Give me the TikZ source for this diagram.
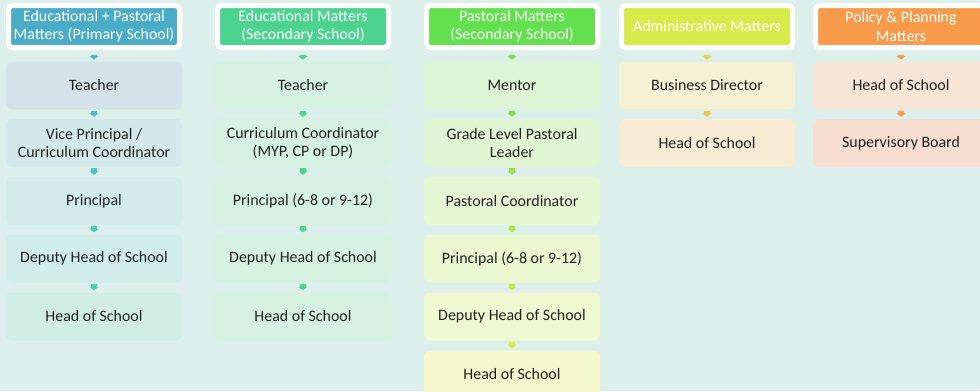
\documentclass[tikz,border=0pt]{standalone}
\usepackage{fontspec}
\setmainfont{Carlito}
\usetikzlibrary{arrows.meta}

\definecolor{bg}{HTML}{DDEFEA}
\definecolor{txt}{HTML}{222222}
% header colours
\definecolor{hA}{HTML}{4AACC6}
\definecolor{hB}{HTML}{4CD38F}
\definecolor{hC}{HTML}{62E04D}
\definecolor{hD}{HTML}{D5EC4B}
\definecolor{hE}{HTML}{F79B4B}
% box fills
\definecolor{fa1}{HTML}{D4E3EA}\definecolor{fa2}{HTML}{D3E8EA}\definecolor{fa3}{HTML}{D2EBEB}
\definecolor{fa4}{HTML}{D1EDE8}\definecolor{fa5}{HTML}{D0EDE4}
\definecolor{fb}{HTML}{D5F1E2}
\definecolor{fc1}{HTML}{DDF5D5}\definecolor{fc2}{HTML}{E0F6D3}\definecolor{fc3}{HTML}{E5F6D2}
\definecolor{fc4}{HTML}{EAF7D1}\definecolor{fc5}{HTML}{EFF8D0}\definecolor{fc6}{HTML}{F4F8CF}
\definecolor{fd1}{HTML}{F6F0D4}\definecolor{fd2}{HTML}{F8EBD3}
\definecolor{fe1}{HTML}{F8E5D6}\definecolor{fe2}{HTML}{F7DCD1}
% arrow colours
\definecolor{ka1}{HTML}{4AB8C8}\definecolor{ka2}{HTML}{4BBFC6}\definecolor{ka3}{HTML}{4CC7BF}
\definecolor{ka4}{HTML}{4ACDB7}\definecolor{ka5}{HTML}{4BD0AC}
\definecolor{kc1}{HTML}{78DE44}\definecolor{kc2}{HTML}{84E040}\definecolor{kc3}{HTML}{96E23E}
\definecolor{kc4}{HTML}{ACE53C}\definecolor{kc5}{HTML}{C3E93A}\definecolor{kc6}{HTML}{D6EC3A}
\definecolor{kd1}{HTML}{F0CC40}\definecolor{kd2}{HTML}{F2C446}

\begin{document}
\begin{tikzpicture}[x=1pt,y=-1pt,
  hdr/.style={draw=white,line width=5pt,rounded corners=4pt,minimum width=171pt,
    minimum height=42pt,inner sep=0pt,align=center,text=white,
    font=\fontsize{15.9}{18.2}\selectfont},
  role/.style={rounded corners=6pt,minimum width=176pt,minimum height=48pt,
    inner sep=0pt,align=center,text=txt,font=\fontsize{15.9}{18.2}\selectfont},
  down/.style={line width=5.5pt,-{Triangle[width=9pt,length=3.5pt]},
    shorten <=1pt,shorten >=2pt},
  top/.style={down,shorten <=5pt,shorten >=1.7pt}]

\fill[bg] (0,0) rectangle (980,391);
\clip (0,0) rectangle (980,391);

% primary school
\node[hdr,fill=hA] (h1) at (94,26.5) {Educational + Pastoral\\Matters (Primary School)};
\node[role,fill=fa1] (a1) at (94,85.5) {Teacher};
\node[role,fill=fa2] (a2) at (94,143) {Vice Principal /\\Curriculum Coordinator};
\node[role,fill=fa3] (a3) at (94,201) {Principal};
\node[role,fill=fa4] (a4) at (94,258.5) {Deputy Head of School};
\node[role,fill=fa5] (a5) at (94,316.5) {Head of School};

\draw[top,ka1] (h1) -- (a1);
\draw[down,ka2] (a1) -- (a2);
\draw[down,ka3] (a2) -- (a3);
\draw[down,ka4] (a3) -- (a4);
\draw[down,ka5] (a4) -- (a5);

% secondary school, educational
\node[hdr,fill=hB] (h2) at (303,26.5) {Educational Matters\\(Secondary School)};
\node[role,fill=fb] (b1) at (303,85.5) {Teacher};
\node[role,fill=fb] (b2) at (303,143) {Curriculum Coordinator\\(MYP, CP or DP)};
\node[role,fill=fb] (b3) at (303,201) {Principal (6-8 or 9-12)};
\node[role,fill=fb] (b4) at (303,258.5) {Deputy Head of School};
\node[role,fill=fb] (b5) at (303,316.5) {Head of School};

\draw[top,hB] (h2) -- (b1);
\draw[down,hB] (b1) -- (b2);
\draw[down,hB] (b2) -- (b3);
\draw[down,hB] (b3) -- (b4);
\draw[down,hB] (b4) -- (b5);

% secondary school, pastoral
\node[hdr,fill=hC] (h3) at (512,26.5) {Pastoral Matters\\(Secondary School)};
\node[role,fill=fc1] (c1) at (512,85.5) {Mentor};
\node[role,fill=fc2] (c2) at (512,143) {Grade Level Pastoral\\Leader};
\node[role,fill=fc3] (c3) at (512,201) {Pastoral Coordinator};
\node[role,fill=fc4] (c4) at (512,258.5) {Principal (6-8 or 9-12)};
\node[role,fill=fc5] (c5) at (512,316.5) {Deputy Head of School};
\node[role,fill=fc6] (c6) at (512,374.5) {Head of School};

\draw[top,kc1] (h3) -- (c1);
\draw[down,kc2] (c1) -- (c2);
\draw[down,kc3] (c2) -- (c3);
\draw[down,kc4] (c3) -- (c4);
\draw[down,kc5] (c4) -- (c5);
\draw[down,kc6] (c5) -- (c6);

% administration
\node[hdr,fill=hD] (h4) at (707,26.5) {Administrative Matters};
\node[role,fill=fd1] (d1) at (707,85.5) {Business Director};
\node[role,fill=fd2] (d2) at (707,143) {Head of School};

\draw[top,kd1] (h4) -- (d1);
\draw[down,kd2] (d1) -- (d2);

% policy
\node[hdr,fill=hE] (h5) at (901,26.5) {Policy \& Planning\\Matters};
\node[role,fill=fe1] (e1) at (901,85.5) {Head of School};
\node[role,fill=fe2] (e2) at (901,143) {Supervisory Board};

\draw[top,hE] (h5) -- (e1);
\draw[down,hE] (e1) -- (e2);
\end{tikzpicture}
\end{document}
